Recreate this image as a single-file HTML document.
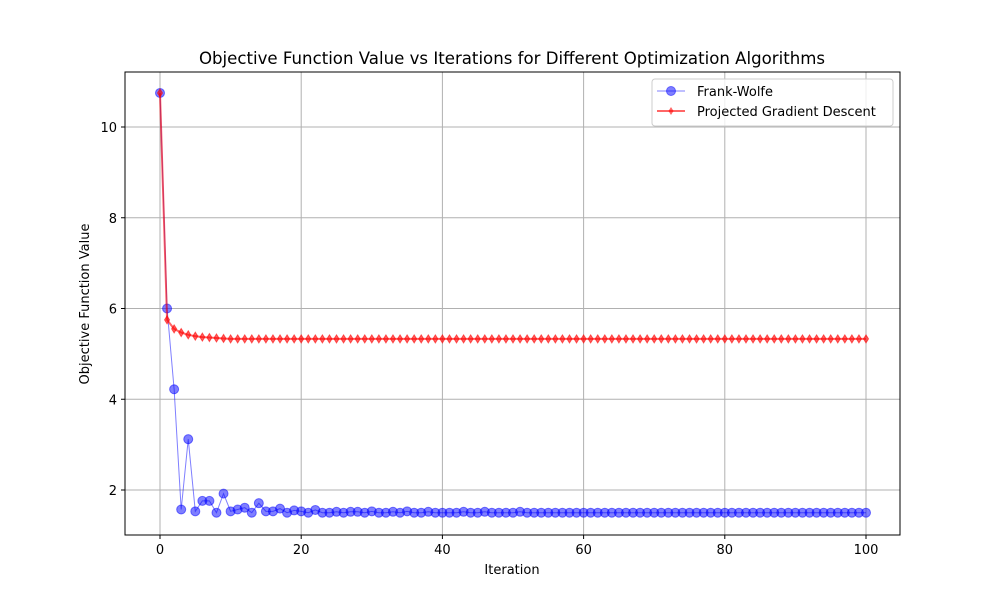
<!DOCTYPE html>
<html><head><meta charset="utf-8"><style>
body{margin:0;background:#fff;font-family:"Liberation Sans","DejaVu Sans",sans-serif}
svg text{font-family:"DejaVu Sans","Liberation Sans",sans-serif}
</style></head><body>
<svg id="c" width="1000" height="600" xmlns="http://www.w3.org/2000/svg"></svg>
<script>
const iterations=[...Array(101).keys()];
const fwValues=[10.75,6.0,4.22,1.57,3.12,1.53,1.76,1.76,1.5,1.92,1.53,1.57,1.61,1.5,1.71,1.53,1.53,1.59,1.5,1.55,1.53,1.5,1.56,1.5,1.5,1.52,1.5,1.52,1.52,1.5,1.53,1.5,1.5,1.52,1.5,1.53,1.5,1.5,1.52,1.5,1.5,1.5,1.5,1.52,1.5,1.5,1.52,1.5,1.5,1.5,1.5,1.52,1.5,1.5,1.5,1.5,1.5,1.5,1.5,1.5,1.5,1.5,1.5,1.5,1.5,1.5,1.5,1.5,1.5,1.5,1.5,1.5,1.5,1.5,1.5,1.5,1.5,1.5,1.5,1.5,1.5,1.5,1.5,1.5,1.5,1.5,1.5,1.5,1.5,1.5,1.5,1.5,1.5,1.5,1.5,1.5,1.5,1.5,1.5,1.5,1.5];
const pgdValues=[10.75,5.75,5.55,5.47,5.42,5.39,5.37,5.36,5.35,5.34,5.33,5.33,5.33,5.33,5.33,5.33,5.33,5.33,5.33,5.33,5.33,5.33,5.33,5.33,5.33,5.33,5.33,5.33,5.33,5.33,5.33,5.33,5.33,5.33,5.33,5.33,5.33,5.33,5.33,5.33,5.33,5.33,5.33,5.33,5.33,5.33,5.33,5.33,5.33,5.33,5.33,5.33,5.33,5.33,5.33,5.33,5.33,5.33,5.33,5.33,5.33,5.33,5.33,5.33,5.33,5.33,5.33,5.33,5.33,5.33,5.33,5.33,5.33,5.33,5.33,5.33,5.33,5.33,5.33,5.33,5.33,5.33,5.33,5.33,5.33,5.33,5.33,5.33,5.33,5.33,5.33,5.33,5.33,5.33,5.33,5.33,5.33,5.33,5.33,5.33,5.33];
const xTicks=[0,20,40,60,80,100];
const yTicks=[2,4,6,8,10];
const NS="http://www.w3.org/2000/svg";
const svg=document.getElementById('c');
const L=125,R=900,T=72,B=535;
const X=v=>160+v*7.06;
const Y=v=>580.75-v*45.375;
function mk(t,a,p){const e=document.createElementNS(NS,t);for(const k in a)e.setAttribute(k,a[k]);(p||svg).appendChild(e);return e;}
let e;
e=mk('text',{x:512,y:64,'text-anchor':'middle','font-size':16.6});e.textContent='Objective Function Value vs Iterations for Different Optimization Algorithms';


xTicks.forEach(v=>{
 e=mk('line',{x1:X(v),x2:X(v),y1:T,y2:B,stroke:'#b0b0b0','stroke-width':1});
 
 
 mk('line',{x1:X(v),x2:X(v),y1:B,y2:B+4,stroke:'#000'});
 e=mk('text',{x:X(v),y:B+19,'text-anchor':'middle','font-size':13});e.textContent=v;
 
 
});
yTicks.forEach(v=>{
 e=mk('line',{x1:L,x2:R,y1:Y(v),y2:Y(v),stroke:'#b0b0b0','stroke-width':1});
 
 
 mk('line',{x1:L-4,x2:L,y1:Y(v),y2:Y(v),stroke:'#000'});
 e=mk('text',{x:L-8,y:Y(v)+5,'text-anchor':'end','font-size':13});e.textContent=v;
 
 
});
e=mk('rect',{x:L,y:T,width:R-L,height:B-T,fill:'none',stroke:'#000','stroke-width':1});


e=mk('text',{x:512,y:574,'text-anchor':'middle','font-size':13});e.textContent='Iteration';


e=mk('text',{x:89,y:304,'text-anchor':'middle','font-size':13,transform:'rotate(-90 89 304)'});e.textContent='Objective Function Value';


e=mk('polyline',{points:iterations.map(i=>X(i)+','+Y(fwValues[i])).join(' '),fill:'none',stroke:'blue','stroke-opacity':0.5,'stroke-width':1});


iterations.forEach(i=>{
 e=mk('circle',{cx:X(i),cy:Y(fwValues[i]),r:4.5,fill:'blue','fill-opacity':0.5,stroke:'blue','stroke-opacity':0.5});
 
 
});
e=mk('polyline',{points:iterations.map(i=>X(i)+','+Y(pgdValues[i])).join(' '),fill:'none',stroke:'red','stroke-opacity':0.6,'stroke-width':2});


iterations.forEach(i=>{
 const x=X(i),y=Y(pgdValues[i]);
 e=mk('polygon',{points:`${x},${y-4} ${x+2.5},${y} ${x},${y+4} ${x-2.5},${y}`,fill:'red','fill-opacity':0.6,stroke:'red','stroke-opacity':0.6});
 
 
});
const g=mk('g',{});


mk('rect',{x:652,y:79,width:241,height:47,rx:3,fill:'#fff','fill-opacity':0.8,stroke:'#ccc'},g);
mk('line',{x1:657,x2:685,y1:91,y2:91,stroke:'blue','stroke-opacity':0.5},g);
mk('circle',{cx:671,cy:91,r:4.5,fill:'blue','fill-opacity':0.5,stroke:'blue','stroke-opacity':0.5},g);
e=mk('text',{x:697,y:96,'font-size':13},g);e.textContent='Frank-Wolfe';


mk('line',{x1:657,x2:685,y1:111,y2:111,stroke:'red','stroke-opacity':0.6,'stroke-width':2},g);
mk('polygon',{points:'671,107 673.5,111 671,115 668.5,111',fill:'red','fill-opacity':0.6},g);
e=mk('text',{x:697,y:116,'font-size':13},g);e.textContent='Projected Gradient Descent';


</script>
</body></html>
